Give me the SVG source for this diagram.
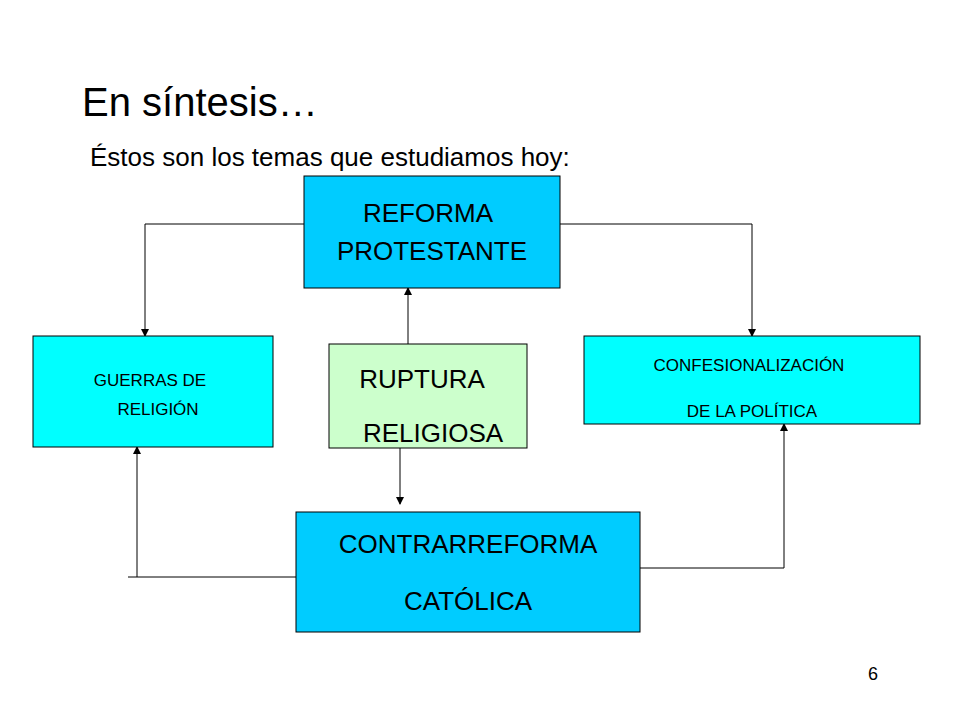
<svg xmlns="http://www.w3.org/2000/svg" width="960" height="720" viewBox="0 0 960 720">
<style>
text{font-family:"Liberation Sans",Arial,sans-serif;fill:#000}
.b{stroke:#000;stroke-width:1}
.c{fill:none;stroke:#000;stroke-width:1}
.l{font-size:26px;text-anchor:middle}
.s{font-size:17px;text-anchor:middle}
</style>
<defs><marker id="a" markerWidth="8" markerHeight="8" refX="7" refY="4" orient="auto" markerUnits="userSpaceOnUse"><path d="M0,0 L8,4 L0,8 z" fill="#000"/></marker></defs>
<rect width="960" height="720" fill="#fff"/>
<text x="82" y="116" font-size="40">En síntesis…</text>
<text x="90" y="166" font-size="26">Éstos son los temas que estudiamos hoy:</text>
<g id="connectors">
<path class="c" d="M304,224 H145 V336" marker-end="url(#a)"/>
<path class="c" d="M560,224 H752 V336" marker-end="url(#a)"/>
<path class="c" d="M408,344 V288" marker-end="url(#a)"/>
<path class="c" d="M400,448 V504" marker-end="url(#a)"/>
<path class="c" d="M296,577 H128"/>
<path class="c" d="M137,577 V447" marker-end="url(#a)"/>
<path class="c" d="M640,568 H784 V424" marker-end="url(#a)"/>
</g>
<g id="reforma"><rect class="b" x="304" y="176" width="256" height="112" fill="#00CCFF"/>
<text class="l" x="428" y="222">REFORMA</text><text class="l" x="432" y="260">PROTESTANTE</text></g>
<g id="guerras"><rect class="b" x="33" y="336" width="240" height="111" fill="#00FFFF"/>
<text class="s" x="150" y="386">GUERRAS DE</text><text class="s" x="158" y="415">RELIGIÓN</text></g>
<g id="ruptura"><rect class="b" x="329" y="344" width="198" height="104" fill="#CCFFCC"/>
<text class="l" x="422" y="388">RUPTURA</text><text class="l" x="433" y="442">RELIGIOSA</text></g>
<g id="confes"><rect class="b" x="584" y="336" width="336" height="88" fill="#00FFFF"/>
<text class="s" x="749" y="371">CONFESIONALIZACIÓN</text><text class="s" x="752" y="417">DE LA POLÍTICA</text></g>
<g id="contra"><rect class="b" x="296" y="512" width="344" height="120" fill="#00CCFF"/>
<text class="l" x="468" y="553">CONTRARREFORMA</text><text class="l" x="468" y="610">CATÓLICA</text></g>
<text x="868" y="680" font-size="18">6</text>
</svg>
